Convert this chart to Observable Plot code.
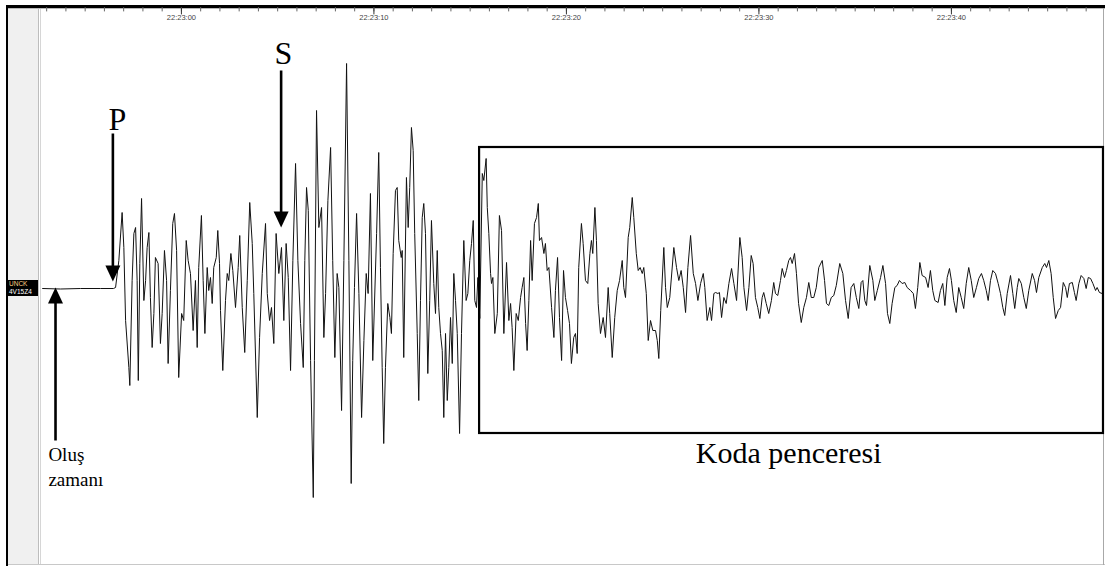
<!DOCTYPE html>
<html>
<head>
<meta charset="utf-8">
<script src="https://cdn.jsdelivr.net/npm/d3@7"></script>
<script src="https://cdn.jsdelivr.net/npm/@observablehq/plot@0.6"></script>
<style>
  html, body { margin: 0; padding: 0; background: #fff; }
  #wrap { position: relative; width: 1105px; height: 566px; overflow: hidden; background: #fff; }
  #wrap .deco { position: absolute; }
  #chart { position: absolute; left: 0; top: 0; }
  #chart text { -webkit-font-smoothing: antialiased; }
  #station { position: absolute; left: 7px; top: 280px; width: 31px; height: 16px; background: #000;
             font: 6.5px "Liberation Sans", Arial, sans-serif; line-height: 7.5px; padding-left: 2px; box-sizing: border-box; }
</style>
</head>
<body>
<div id="wrap">
  <div class="deco" style="left:8px;top:8px;width:30px;height:557px;background:#f0f0f0"></div>
  <div class="deco" style="left:38px;top:8px;width:1px;height:557px;background:#bdbdbd"></div>
  <div class="deco" style="left:40px;top:8px;width:1px;height:557px;background:#d6d6d6"></div>
  <div class="deco" style="left:6px;top:5px;width:1099px;height:2.5px;background:#000"></div>
  <div class="deco" style="left:8px;top:8px;width:1097px;height:1px;background:#b8b8b8"></div>
  <div class="deco" style="left:6px;top:5px;width:2px;height:561px;background:#000"></div>
  <div class="deco" style="left:8px;top:564px;width:1097px;height:1px;background:#c8c8c8"></div>
  <div class="deco" style="left:1103px;top:8px;width:1px;height:557px;background:#a8a8a8"></div>
  <div id="chart"></div>
  <div id="station"><span style="color:#ffcf85">UNCK</span><br><span style="color:#fff">4V15Z4</span></div>
</div>
<script>
// ---- Data (seconds relative to 22:23:00, amplitude in counts) ----
const viewStart = -7.216, viewEnd = 47.745;
const times = [
  -7.21, -6.28, -5.24, -4.20, -3.53, -3.42,
  -3.25, -3.08, -2.99, -2.90, -2.73, -2.68, -2.56, -2.47, -2.38, -2.30,
  -2.24, -2.16, -2.07, -1.95, -1.86, -1.78, -1.69, -1.61, -1.52, -1.43,
  -1.35, -1.21, -1.09, -1.00, -0.88, -0.77, -0.69, -0.57, -0.45, -0.36,
  -0.25, -0.14, 0.01, 0.12, 0.25, 0.35, 0.47, 0.61, 0.73, 0.82,
  0.90, 1.04, 1.13, 1.22, 1.34, 1.42, 1.51, 1.60, 1.68, 1.81,
  1.89, 1.98, 2.03, 2.15, 2.29, 2.38, 2.46, 2.57, 2.67, 2.81,
  2.95, 3.03, 3.16, 3.29, 3.42, 3.55, 3.68, 3.76, 3.94, 4.06,
  4.20, 4.37, 4.46, 4.58, 4.68, 4.80, 4.92, 5.06, 5.20, 5.32,
  5.44, 5.55, 5.67, 5.79, 5.93, 6.05, 6.19, 6.33, 6.41, 6.50,
  6.59, 6.71, 6.85, 6.91, 7.02, 7.14, 7.28, 7.40, 7.49, 7.61,
  7.75, 7.86, 7.97, 8.09, 8.18, 8.32, 8.44, 8.58, 8.70, 8.82,
  8.90, 8.99, 9.10, 9.22, 9.36, 9.48, 9.60, 9.70, 9.82, 9.94,
  10.14, 10.25, 10.34, 10.43, 10.51, 10.60, 10.72, 10.83, 10.91, 11.00,
  11.12, 11.21, 11.29, 11.42, 11.47, 11.55, 11.69, 11.78, 11.86, 11.95,
  12.04, 12.12, 12.25, 12.33, 12.42, 12.51, 12.59, 12.68, 12.80, 12.90,
  12.99, 13.11, 13.20, 13.29, 13.37, 13.46, 13.55, 13.63, 13.72, 13.81,
  13.89, 13.98, 14.07, 14.15, 14.24, 14.33, 14.45, 14.55, 14.67, 14.79,
  14.88, 14.98, 15.07, 15.16, 15.24, 15.33, 15.40,
  15.50, 15.63, 15.71, 15.83, 15.89, 15.97, 16.06, 16.11, 16.18, 16.28,
  16.41, 16.52, 16.63, 16.75, 16.89, 17.01, 17.10, 17.18, 17.27, 17.39,
  17.50, 17.62, 17.70, 17.79, 17.88, 17.96, 18.05, 18.14, 18.22, 18.34,
  18.45, 18.54, 18.60, 18.71, 18.83, 18.91, 19.00, 19.09, 19.23, 19.35,
  19.43, 19.54, 19.64, 19.75, 19.85, 19.95, 20.06, 20.16, 20.26, 20.38,
  20.47, 20.56, 20.64, 20.78, 20.87, 20.99, 21.11, 21.22, 21.30, 21.37,
  21.48, 21.56, 21.65, 21.77, 21.91, 22.03, 22.17, 22.25, 22.38, 22.51,
  22.64, 22.76, 22.90, 22.98, 23.07, 23.21, 23.29, 23.42, 23.50, 23.63,
  23.73, 23.83, 23.94, 24.02, 24.15, 24.25, 24.37, 24.49, 24.63, 24.72,
  24.80, 24.90, 25.06, 25.15, 25.24, 25.37, 25.58, 25.72, 25.84, 25.96,
  26.07, 26.19, 26.31, 26.45, 26.59, 26.71, 26.83, 26.97, 27.11, 27.19,
  27.31, 27.45, 27.54, 27.66, 27.75, 27.87, 27.95, 28.06, 28.18, 28.30,
  28.44, 28.58, 28.70, 28.84, 29.01, 29.13, 29.22, 29.36, 29.48, 29.60,
  29.70, 29.82, 29.94, 30.05, 30.17, 30.25, 30.38, 30.51, 30.65, 30.77,
  30.86, 30.98, 31.12, 31.21, 31.33, 31.43, 31.55, 31.64, 31.73, 31.85,
  31.95, 32.06, 32.20, 32.33, 32.47, 32.59, 32.72, 32.85, 32.98, 33.11,
  33.29, 33.41, 33.51, 33.63, 33.76, 33.89, 34.02, 34.20, 34.36, 34.50,
  34.64, 34.79, 34.93, 35.06, 35.19, 35.31, 35.40, 35.50, 35.59, 35.76,
  35.92, 36.02, 36.15, 36.32, 36.44, 36.58, 36.68, 36.80, 36.92, 37.06,
  37.18, 37.30, 37.44, 37.58, 37.70, 37.88, 38.02, 38.13, 38.25, 38.36,
  38.48, 38.66, 38.79, 38.91, 39.03, 39.14, 39.31, 39.43, 39.55, 39.66,
  39.78, 39.90, 40.00, 40.12, 40.25, 40.38, 40.51, 40.64, 40.77, 40.90,
  41.03, 41.16, 41.30, 41.42, 41.56, 41.68, 41.81, 41.91, 42.03, 42.15,
  42.29, 42.43, 42.55, 42.67, 42.77, 42.90, 43.07, 43.19, 43.29, 43.42,
  43.50, 43.63, 43.76, 43.89, 44.02, 44.20, 44.32, 44.42, 44.54, 44.72,
  44.85, 44.94, 45.06, 45.18, 45.29, 45.41, 45.55, 45.67, 45.81, 45.93,
  46.02, 46.13, 46.28, 46.39, 46.48, 46.62, 46.74, 46.88, 47.00, 47.11,
  47.23, 47.35, 47.49, 47.57, 47.69, 47.83
];
const amps = [
  -1, -1.5, -1, -1, -1, 0,
  27, 75, 40, -33, -80, -98, 7, 54, 60, 7,
  -93, 24, 89, -13, 7, 40, 55, -10, -60, -26,
  30, 24, -56, -26, 37, 7, -76, -3, 64, 74,
  37, -90, -26, -33, 47, 27, 14, -43, 7, -60,
  20, 72, 7, -46, 20, -3, 10, -16, 20, 30,
  57, 24, -23, -83, -13, 14, 7, 34, 17, -20,
  20, 52, -20, -65, 7, 85, 44, -6, -130, -50,
  14, 64, -6, -33, -20, -56, 54, 14, 40, -33,
  44, 10, -83, 27, 124, 27, -36, -80, 27, 100,
  77, -73, -210, -73, 177, 60, 80, -50, -6, 87,
  140, 27, -70, 14, 0, -123, 27, 224, 27, -196,
  -73, 0, 74, -6, -130, -53, 14, -6, 94, -73,
  54, 135, 20, -80, -156, -80, -16, -30, -46, 34,
  97, 100, 47, 30, 37, -70, 110, 60, 100, 160,
  137, 54, -46, -113, -13, 70, 84, 54, -86, -13,
  67, 4, -26, 37, -20, -46, -63, -130, -46, -113,
  -80, -30, -76, 14, -13, -46, -146, -46, 47, -13,
  -6, 27, 44, 67, -13, -20, 10,
  -31, 114, 107, 129, 80, 54, 14, 4, 10, -46,
  -26, 72, 57, -46, 25, -33, -16, -40, -83, -26,
  -33, -10, 0, 10, -36, -63, -13, 47, 7, 64,
  70, 84, 47, 50, 34, 44, 17, 20, -20, -50,
  -3, 30, -30, -73, 17, -10, -23, -36, -76, -50,
  -46, -66, 20, 64, 44, 7, 4, 34, 47, 34,
  80, 47, -16, -46, -30, -50, 0, -26, -70, -30,
  -3, 7, 27, 0, -10, 50, 60, 90, 70, 34,
  17, 20, 14, 20, -6, -53, -33, -43, -43, -53,
  -71, -23, 40, 0, -20, -10, 40, 20, 7, 17,
  0, -25, 20, 52, 14, 4, -13, 4, 14, 0,
  -33, -20, -33, -6, -5, -6, -5, -30, -10, -16,
  4, 19, 4, -13, 50, 30, 0, -23, 0, 32,
  24, -10, -20, -31, -10, -5, -16, -26, -13, 5,
  -6, -8, 7, 19, 10, 17, 27, 30, 24, 34,
  14, -16, -35, -20, -10, 5, -10, -10, 0, 20,
  27, 7, -16, -18, -10, -8, 2, 24, 14, -13,
  -31, 0, 4, -10, -21, 5, 7, -13, -18, 22,
  7, -13, -3, 10, 22, 4, -26, -36, -16, 0,
  2, 7, 4, 5, 0, -3, -6, -21, 0, 25,
  12, 10, 0, 17, -3, -13, -15, -3, 4, -18,
  10, 19, 7, -13, -25, 0, -10, -21, 4, 20,
  7, -10, 0, 9, 14, 7, -3, -13, 7, 17,
  14, 4, -6, -20, -28, -6, 12, -6, -21, 0,
  9, 4, -10, -21, -3, 14, 7, -5, 10, 20,
  24, 20, 27, 14, -10, -31, -23, -20, 5, 0,
  -10, 4, 5, -5, -13, 4, 12, 9, -1, 10,
  9, 4, -3, 0, -5, -6
];
const majorTickLabels = ["22:23:00", "22:23:10", "22:23:20", "22:23:30", "22:23:40"];
const minorTickStepSeconds = 1;

// Phase picks and coda window (seconds relative to 22:23:00, amplitude extents of the annotations)
const pickNames = ["origin", "P", "S"];
const pickTimes = [-6.54, -3.56, 5.18];
const pickArrowFrom = [-153, 154, 217];
const pickArrowTo = [0, 6, 60];
const pickLabels = ["", "P", "S"];
const pickLabelTimes = [null, -3.32, 5.30];
const pickLabelAmps = [null, 158, 224];
const originLabel = "Oluş\nzamanı";
const originLabelTime = -6.91, originLabelAmp = -198;
const codaLabel = "Koda penceresi";
const codaStart = 15.49, codaEnd = 47.9, codaTop = 140, codaBottom = -146;
const codaLabelTime = 31.55, codaLabelAmp = -175;

if (times.length !== amps.length) throw new Error("length mismatch " + times.length + " vs " + amps.length);

// ---- Build ----
const base = new Date(2000, 0, 1, 22, 23, 0);
const toDate = s => new Date(base.getTime() + s * 1000);
const parseT = d3.timeParse("%H:%M:%S");
const fmt = d3.timeFormat("%H:%M:%S");
const samples = times.map((t, i) => ({time: toDate(t), amp: amps[i]}));
const majorTicks = majorTickLabels.map(s => { const p = parseT(s); return toDate((p.getHours() - 22) * 3600 + (p.getMinutes() - 23) * 60 + p.getSeconds()); });
const minorTicks = d3.range(Math.ceil(viewStart), viewEnd, minorTickStepSeconds).map(toDate);
const arrows = pickNames.map((n, i) => ({name: n, t: toDate(pickTimes[i]), from: pickArrowFrom[i], to: pickArrowTo[i]}));
const letters = pickNames.map((n, i) => ({text: pickLabels[i], t: pickLabelTimes[i], a: pickLabelAmps[i]})).filter(d => d.text);

const tickShape = {draw(ctx, l) { ctx.moveTo(0, 0); ctx.lineTo(0, l); }};
const headDown = {draw(ctx) { ctx.moveTo(0, 0); ctx.lineTo(-7.5, -16); ctx.lineTo(7.5, -16); ctx.closePath(); }};
const serif = "'Liberation Serif', 'Times New Roman', serif";

const plot = Plot.plot({
  width: 1105,
  height: 566,
  marginLeft: 42,
  marginRight: 5,
  marginTop: 7,
  marginBottom: 4,
  style: {background: "transparent", overflow: "visible"},
  x: {type: "time", domain: [toDate(viewStart), toDate(viewEnd)], axis: null},
  y: {domain: [-275, 280], axis: null},
  marks: [
    Plot.vector(minorTicks, {x: d => d, frameAnchor: "top", length: 3.5, anchor: "start", shape: tickShape, stroke: "#666", strokeWidth: 1}),
    Plot.vector(majorTicks, {x: d => d, frameAnchor: "top", length: 6.5, anchor: "start", shape: tickShape, stroke: "#333", strokeWidth: 1}),
    Plot.text(majorTicks, {x: d => d, text: d => fmt(d), frameAnchor: "top", dy: 7.5, lineAnchor: "top", fontSize: 7.5, fill: "#444", fontFamily: "'Liberation Sans', Arial, sans-serif"}),
    Plot.line(samples, {x: "time", y: "amp", stroke: "#111", strokeWidth: 1, strokeLinejoin: "miter"}),
    Plot.rect([{x1: toDate(codaStart), x2: toDate(codaEnd), y1: codaBottom, y2: codaTop}], {x1: "x1", x2: "x2", y1: "y1", y2: "y2", fill: "none", stroke: "#000", strokeWidth: 2.2}),
    Plot.link(arrows, {x1: "t", x2: "t", y1: "from", y2: d => d.to + (d.from > d.to ? 8 : -8), stroke: "#000", strokeWidth: 2.6}),
    Plot.dot(arrows, {x: "t", y: "to", symbol: headDown, rotate: d => d.from < d.to ? 180 : 0, fill: "#000", stroke: "none", r: 6}),
    Plot.text(letters, {x: d => toDate(d.t), y: "a", text: "text", lineAnchor: "bottom", fontSize: 32, fontFamily: serif, fill: "#000"}),
    Plot.text([originLabel], {x: toDate(originLabelTime), y: originLabelAmp, text: d => d, textAnchor: "start", lineAnchor: "bottom", lineHeight: 1.27, fontSize: 19, fontFamily: serif, fill: "#000"}),
    Plot.text([codaLabel], {x: toDate(codaLabelTime), y: codaLabelAmp, text: d => d, lineAnchor: "bottom", fontSize: 30, fontFamily: serif, fill: "#000"})
  ]
});
document.getElementById("chart").appendChild(plot);
</script>
</body>
</html>
